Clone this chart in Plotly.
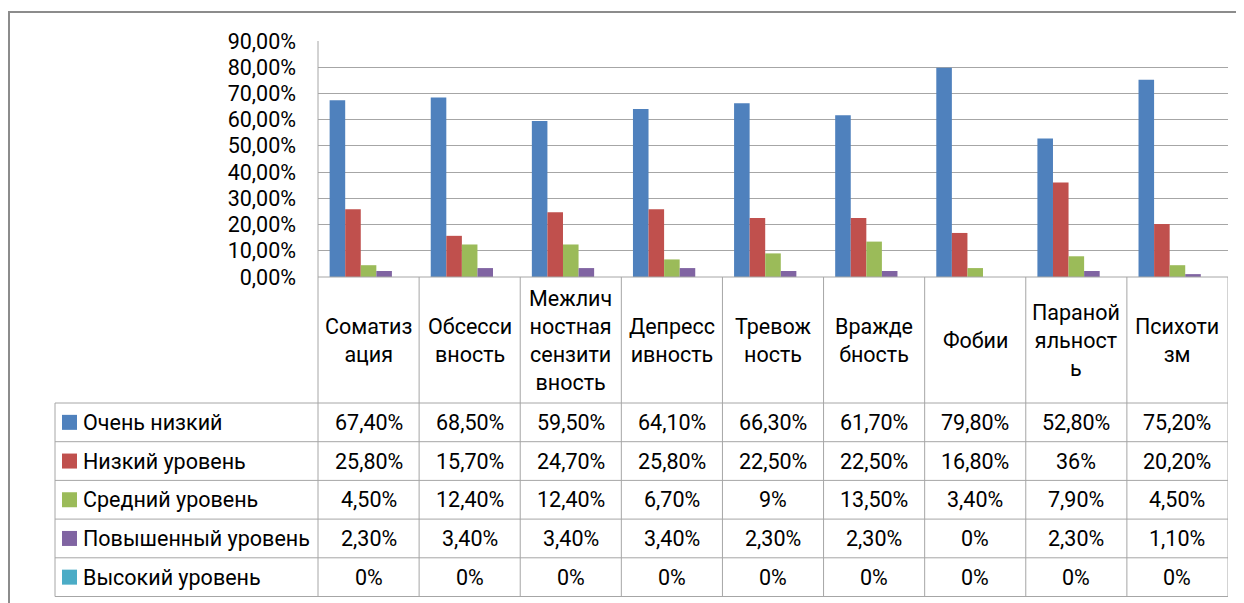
import plotly.graph_objects as go

categories = ["Соматизация", "Обсессивность", "Межличностная сензитивность",
              "Депрессивность", "Тревожность", "Враждебность", "Фобии",
              "Паранойяльность", "Психотизм"]
header_labels = ["Соматиз<br>ация", "Обсесси<br>вность",
                 "Межлич<br>ностная<br>сензити<br>вность", "Депресс<br>ивность",
                 "Тревож<br>ность", "Вражде<br>бность", "Фобии",
                 "Параной<br>яльност<br>ь", "Психоти<br>зм"]
series_names = ["Очень низкий", "Низкий уровень", "Средний уровень",
                "Повышенный уровень", "Высокий уровень"]
very_low = [0.674, 0.685, 0.595, 0.641, 0.663, 0.617, 0.798, 0.528, 0.752]
low = [0.258, 0.157, 0.247, 0.258, 0.225, 0.225, 0.168, 0.36, 0.202]
medium = [0.045, 0.124, 0.124, 0.067, 0.09, 0.135, 0.034, 0.079, 0.045]
elevated = [0.023, 0.034, 0.034, 0.034, 0.023, 0.023, 0.0, 0.023, 0.011]
high = [0.0, 0.0, 0.0, 0.0, 0.0, 0.0, 0.0, 0.0, 0.0]
series_values = [very_low, low, medium, elevated, high]
colors = ["#4F81BD", "#C0504D", "#9BBB59", "#8064A2", "#4BACC6"]

# the page body adds an 8px margin, so the figure is drawn 8px smaller
OFF = 8
W, H = 1244 - OFF, 603 - OFF
L, R, T, B = 318, 1228, 41, 277  # plot area in window pixels
FONT = "Roboto"
FS = 21.5
GRID = "#A6A6A6"


def px_x(p):
    return (p - L) / (R - L)


def px_y(p):
    return (B - p) / (B - T)


def fmt(v):
    pct = round(v * 100, 2)
    if pct == int(pct):
        return f"{int(pct)}%"
    return f"{pct:.2f}".replace(".", ",") + "%"


fig = go.Figure()
for name, vals, col in zip(series_names, series_values, colors):
    fig.add_trace(go.Bar(x=categories, y=vals, name=name, marker_color=col,
                         marker_line=dict(width=0)))

shapes = []
annotations = []
line = dict(color=GRID, width=1)

# outer chart border
shapes.append(dict(type="rect", xref="paper", yref="paper",
                   x0=px_x(9), x1=px_x(1270), y0=px_y(12), y1=px_y(630),
                   line=dict(color="#8C8C8C", width=2), layer="above"))

# table grid
header_bottom = 403
row_h = 38.7
rows_y = [header_bottom + row_h * i for i in range(len(series_names) + 1)]
for y in rows_y:
    shapes.append(dict(type="line", xref="paper", yref="paper",
                       x0=px_x(55), x1=px_x(R), y0=px_y(y), y1=px_y(y), line=line))
shapes.append(dict(type="line", xref="paper", yref="paper",
                   x0=0, x1=1, y0=0, y1=0, line=line))
shapes.append(dict(type="line", xref="paper", yref="paper",
                   x0=px_x(55), x1=px_x(55), y0=px_y(header_bottom), y1=px_y(rows_y[-1]), line=line))
shapes.append(dict(type="line", xref="paper", yref="paper",
                   x0=0, x1=0, y0=1, y1=px_y(rows_y[-1]), line=line))
for i in range(len(categories)):
    shapes.append(dict(type="line", xref="x", yref="paper",
                       x0=i + 0.5, x1=i + 0.5, y0=0, y1=px_y(rows_y[-1]), line=line))

# header labels
for cat, lab in zip(categories, header_labels):
    annotations.append(dict(x=cat, xref="x", y=px_y((B + header_bottom) / 2), yref="paper",
                            text=lab, showarrow=False, xanchor="center", yanchor="middle",
                            font=dict(family=FONT, size=FS, color="black")))

# legend column and values
for r, (name, vals, col) in enumerate(zip(series_names, series_values, colors)):
    yc = rows_y[r] + row_h / 2
    shapes.append(dict(type="rect", xref="paper", yref="paper",
                       x0=px_x(62), x1=px_x(77), y0=px_y(yc - 7.5), y1=px_y(yc + 7.5),
                       fillcolor=col, line=dict(width=0)))
    annotations.append(dict(x=px_x(81), xref="paper", y=px_y(yc), yref="paper",
                            text=name, showarrow=False, xanchor="left", yanchor="middle",
                            font=dict(family=FONT, size=FS, color="black")))
    for cat, v in zip(categories, vals):
        annotations.append(dict(x=cat, xref="x", y=px_y(yc), yref="paper",
                                text=fmt(v), showarrow=False, xanchor="center",
                                yanchor="middle",
                                font=dict(family=FONT, size=FS, color="black")))

fig.update_layout(
    width=W, height=H,
    margin=dict(l=L - OFF, r=W - (R - OFF), t=T - OFF, b=H - (B - OFF), pad=0),
    paper_bgcolor="white", plot_bgcolor="white",
    barmode="group", bargap=0.23, bargroupgap=0,
    showlegend=False,
    separators=", ",
    font=dict(family=FONT, size=FS, color="black"),
    shapes=shapes, annotations=annotations,
    xaxis=dict(range=[-0.5, len(categories) - 0.5], showticklabels=False,
               showgrid=False, zeroline=False, showline=False, fixedrange=True),
    yaxis=dict(range=[0, 0.9], dtick=0.1, tickformat=".2%", showgrid=True,
               gridcolor=GRID, gridwidth=1, zeroline=False, showline=False,
               ticklabelstandoff=21, fixedrange=True,
               tickfont=dict(family=FONT, size=FS, color="black")),
)

fig.write_html("out.html")
